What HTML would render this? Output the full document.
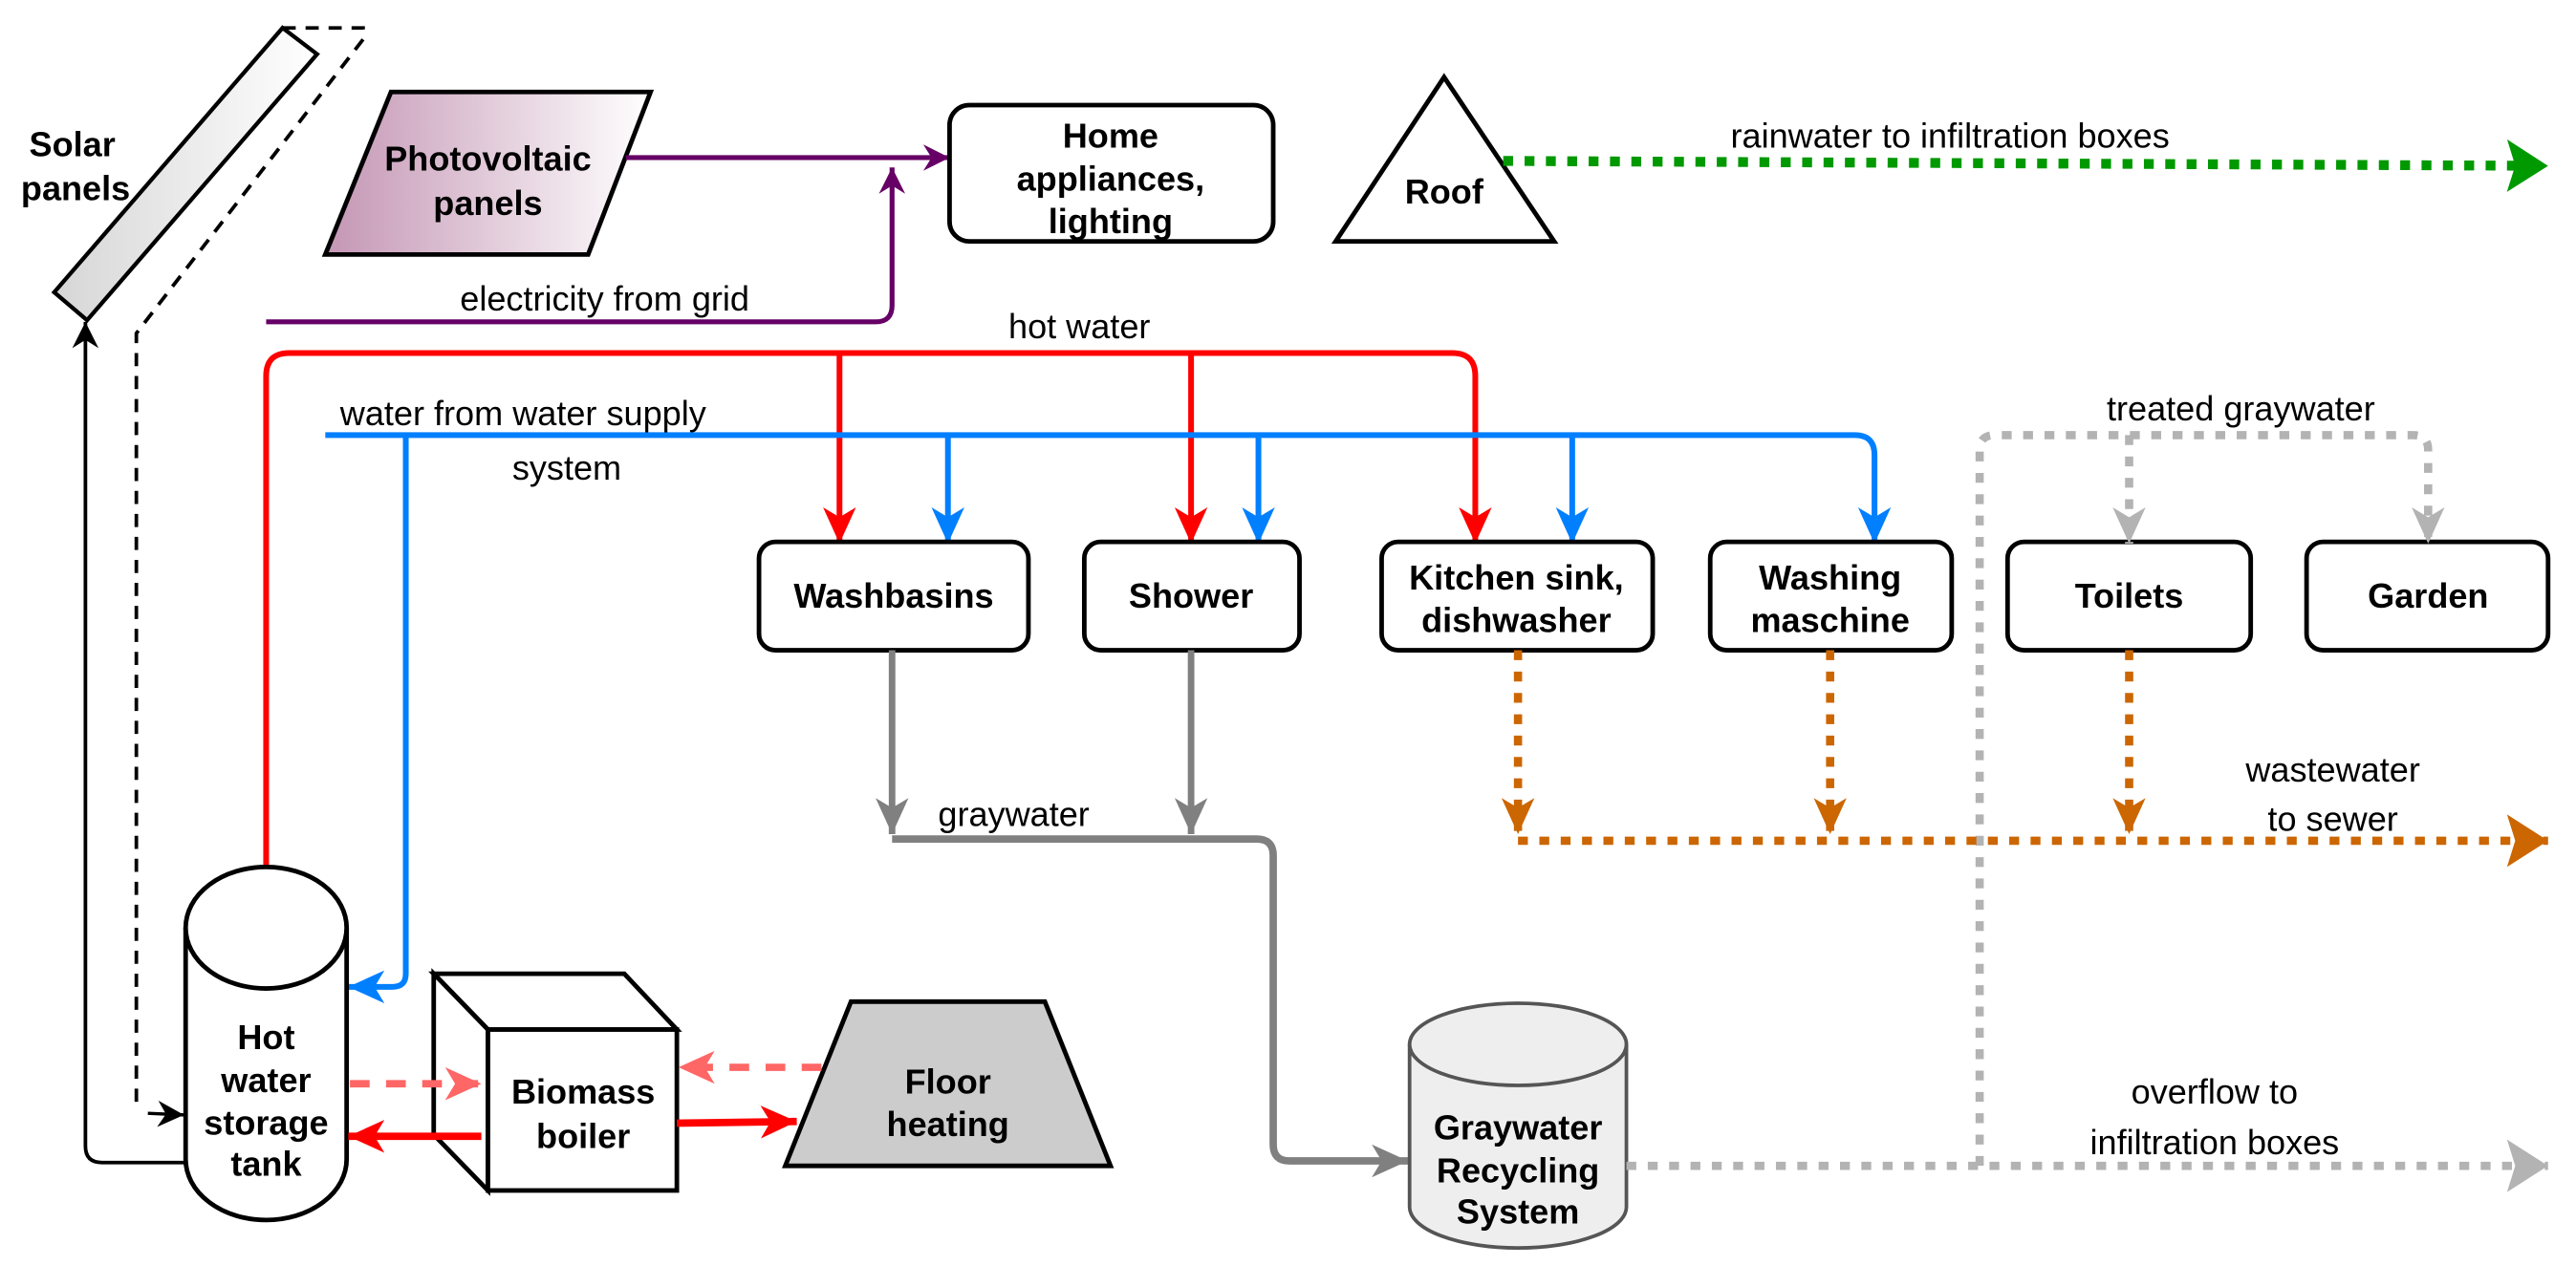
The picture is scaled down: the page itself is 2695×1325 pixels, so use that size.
<!DOCTYPE html>
<html><head><meta charset="utf-8"><style>
html,body{margin:0;padding:0;background:#fff;}
svg{display:block;}
text{font-family:"Liberation Sans",Arial,sans-serif;}
.b{font-weight:bold;font-size:21px;text-anchor:middle;}
.r{font-size:21px;}
</style></head><body>
<svg width="2695" height="1325" viewBox="0 0 1568 771" preserveAspectRatio="none" xmlns="http://www.w3.org/2000/svg">
<defs>
<linearGradient id="gs" x1="0" y1="0" x2="1" y2="0"><stop offset="0" stop-color="#d6d6d6"/><stop offset="1" stop-color="#ffffff"/></linearGradient>
<linearGradient id="gp" x1="0" y1="0" x2="1" y2="0"><stop offset="0" stop-color="#c496b4"/><stop offset="1" stop-color="#ffffff"/></linearGradient>
<marker id="aK" markerUnits="userSpaceOnUse" markerWidth="18" markerHeight="16" refX="16" refY="8" orient="auto"><path d="M0,0 L16,8 L0,16 L5,8z" fill="#000"/></marker>
<marker id="aP" markerUnits="userSpaceOnUse" markerWidth="18" markerHeight="16" refX="16" refY="8" orient="auto"><path d="M0,0 L16,8 L0,16 L5,8z" fill="#660066"/></marker>
<marker id="aR" markerUnits="userSpaceOnUse" markerWidth="24" markerHeight="20" refX="22" refY="10" orient="auto"><path d="M0,0 L22,10 L0,20 L6,10z" fill="#ff0000"/></marker>
<marker id="aRp" markerUnits="userSpaceOnUse" markerWidth="24" markerHeight="20" refX="22" refY="10" orient="auto"><path d="M0,0 L22,10 L0,20 L6,10z" fill="#ff6666"/></marker>
<marker id="aB" markerUnits="userSpaceOnUse" markerWidth="24" markerHeight="20" refX="22" refY="10" orient="auto"><path d="M0,0 L22,10 L0,20 L6,10z" fill="#007fff"/></marker>
<marker id="aG" markerUnits="userSpaceOnUse" markerWidth="24" markerHeight="20" refX="22" refY="10" orient="auto"><path d="M0,0 L22,10 L0,20 L6,10z" fill="#808080"/></marker>
<marker id="aL" markerUnits="userSpaceOnUse" markerWidth="24" markerHeight="20" refX="22" refY="10" orient="auto"><path d="M0,0 L22,10 L0,20 L6,10z" fill="#b3b3b3"/></marker>
<marker id="aO" markerUnits="userSpaceOnUse" markerWidth="24" markerHeight="20" refX="22" refY="10" orient="auto"><path d="M0,0 L22,10 L0,20 L6,10z" fill="#cc6600"/></marker>
<marker id="aGr" markerUnits="userSpaceOnUse" markerWidth="26" markerHeight="32" refX="25" refY="16" orient="auto"><path d="M0,0 L25,16 L0,32 L5,16z" fill="#009900"/></marker>
<marker id="aOb" markerUnits="userSpaceOnUse" markerWidth="26" markerHeight="32" refX="25" refY="16" orient="auto"><path d="M0,0 L25,16 L0,32 L5,16z" fill="#cc6600"/></marker>
<marker id="aLb" markerUnits="userSpaceOnUse" markerWidth="26" markerHeight="32" refX="25" refY="16" orient="auto"><path d="M0,0 L25,16 L0,32 L5,16z" fill="#b3b3b3"/></marker>
</defs>

<!-- Solar panel -->
<polygon points="172,17 193,33 53,195 33,178" fill="url(#gs)" stroke="#000" stroke-width="2.5"/>
<text class="r" x="44" y="95" text-anchor="middle" font-size="20" font-weight="bold">Solar</text>
<text class="r" x="46" y="122" text-anchor="middle" font-size="20" font-weight="bold">panels</text>
<path d="M172,17 L221,17 L221,24 L83,203 L83,675" fill="none" stroke="#000" stroke-width="2.2" stroke-dasharray="8 6"/>
<path d="M90,678 L112,679" fill="none" stroke="#000" stroke-width="2" marker-end="url(#aK)"/>
<path d="M112,708 L62,708 Q52,708 52,698 L52,196" fill="none" stroke="#000" stroke-width="2.2" marker-end="url(#aK)"/>

<!-- Photovoltaic -->
<polygon points="238,56 396,56 358,155 198,155" fill="url(#gp)" stroke="#000" stroke-width="2.8"/>
<text class="b" x="297" y="104">Photovoltaic</text>
<text class="b" x="297" y="131">panels</text>
<path d="M381,96 L578,96" fill="none" stroke="#660066" stroke-width="3" marker-end="url(#aP)"/>
<path d="M162,196 L533,196 Q543,196 543,186 L543,102" fill="none" stroke="#660066" stroke-width="3" marker-end="url(#aP)"/>
<text class="r" x="280" y="189">electricity from grid</text>

<!-- Home -->
<rect x="578" y="64" width="197" height="83" rx="12" fill="#fff" stroke="#000" stroke-width="2.8"/>
<text class="b" x="676" y="90">Home</text>
<text class="b" x="676" y="116">appliances,</text>
<text class="b" x="676" y="142">lighting</text>

<!-- Roof -->
<polygon points="879,47 946,147 813,147" fill="#fff" stroke="#000" stroke-width="2.8"/>
<text class="b" x="879" y="124">Roof</text>
<path d="M915,98 L1551,101" fill="none" stroke="#009900" stroke-width="6" stroke-dasharray="6 7" marker-end="url(#aGr)"/>
<text class="r" x="1187" y="90" text-anchor="middle">rainwater to infiltration boxes</text>

<!-- Hot water red -->
<path d="M162,528 L162,229 Q162,215 176,215 L884,215 Q898,215 898,229 L898,331" fill="none" stroke="#ff0000" stroke-width="3.5" marker-end="url(#aR)"/>
<path d="M511,215 L511,331" fill="none" stroke="#ff0000" stroke-width="3.5" marker-end="url(#aR)"/>
<path d="M725,215 L725,331" fill="none" stroke="#ff0000" stroke-width="3.5" marker-end="url(#aR)"/>
<text class="r" x="657" y="206" text-anchor="middle">hot water</text>

<!-- Blue water -->
<path d="M198,265 L1129,265 Q1141,265 1141,277 L1141,331" fill="none" stroke="#007fff" stroke-width="3.5" marker-end="url(#aB)"/>
<path d="M577,265 L577,331" fill="none" stroke="#007fff" stroke-width="3.5" marker-end="url(#aB)"/>
<path d="M766,265 L766,331" fill="none" stroke="#007fff" stroke-width="3.5" marker-end="url(#aB)"/>
<path d="M957,265 L957,331" fill="none" stroke="#007fff" stroke-width="3.5" marker-end="url(#aB)"/>
<path d="M247,265 L247,593 Q247,601 239,601 L212,601" fill="none" stroke="#007fff" stroke-width="3.5" marker-end="url(#aB)"/>
<text class="r" x="207" y="259">water from water supply</text>
<text class="r" x="345" y="292" text-anchor="middle">system</text>

<!-- Boxes -->
<g fill="#fff" stroke="#000" stroke-width="2.8">
<rect x="462" y="330" width="164" height="66" rx="10"/>
<rect x="660" y="330" width="131" height="66" rx="10"/>
<rect x="841" y="330" width="165" height="66" rx="10"/>
<rect x="1041" y="330" width="147" height="66" rx="10"/>
<rect x="1222" y="330" width="148" height="66" rx="10"/>
<rect x="1404" y="330" width="147" height="66" rx="10"/>
</g>
<text class="b" x="544" y="370">Washbasins</text>
<text class="b" x="725" y="370">Shower</text>
<text class="b" x="923" y="359">Kitchen sink,</text>
<text class="b" x="923" y="385">dishwasher</text>
<text class="b" x="1114" y="359">Washing</text>
<text class="b" x="1114" y="385">maschine</text>
<text class="b" x="1296" y="370">Toilets</text>
<text class="b" x="1478" y="370">Garden</text>

<!-- Graywater -->
<path d="M543,396 L543,508" fill="none" stroke="#808080" stroke-width="4" marker-end="url(#aG)"/>
<path d="M725,396 L725,508" fill="none" stroke="#808080" stroke-width="4" marker-end="url(#aG)"/>
<path d="M543,511 L765,511 Q775,511 775,521 L775,697 Q775,707 785,707 L857,707" fill="none" stroke="#808080" stroke-width="4.5" marker-end="url(#aG)"/>
<text class="r" x="571" y="503">graywater</text>

<!-- Graywater cylinder -->
<path d="M858,636 L858,735 A66,25 0 0 0 990,735 L990,636" fill="#eeeeee" stroke="#555" stroke-width="2.2"/>
<ellipse cx="924" cy="636" rx="66" ry="25" fill="#eeeeee" stroke="#555" stroke-width="2.2"/>
<text class="b" x="924" y="694" font-size="19">Graywater</text>
<text class="b" x="924" y="720" font-size="19">Recycling</text>
<text class="b" x="924" y="745" font-size="19">System</text>

<!-- light gray dotted -->
<path d="M990,710 L1551,710" fill="none" stroke="#b3b3b3" stroke-width="5" stroke-dasharray="6 7" marker-end="url(#aLb)"/>
<path d="M1205,710 L1205,274 Q1205,265 1214,265 L1469,265 Q1478,265 1478,274 L1478,331" fill="none" stroke="#b3b3b3" stroke-width="5" stroke-dasharray="6 7" marker-end="url(#aL)"/>
<path d="M1296,265 L1296,331" fill="none" stroke="#b3b3b3" stroke-width="5" stroke-dasharray="6 7" marker-end="url(#aL)"/>
<text class="r" x="1364" y="256" text-anchor="middle">treated graywater</text>
<text class="r" x="1348" y="672" text-anchor="middle">overflow to</text>
<text class="r" x="1348" y="703" text-anchor="middle">infiltration boxes</text>

<!-- Orange wastewater -->
<path d="M924,396 L924,508" fill="none" stroke="#cc6600" stroke-width="5" stroke-dasharray="6 7" marker-end="url(#aO)"/>
<path d="M1114,396 L1114,508" fill="none" stroke="#cc6600" stroke-width="5" stroke-dasharray="6 7" marker-end="url(#aO)"/>
<path d="M1296,396 L1296,508" fill="none" stroke="#cc6600" stroke-width="5" stroke-dasharray="6 7" marker-end="url(#aO)"/>
<path d="M924,512 L1551,512" fill="none" stroke="#cc6600" stroke-width="5" stroke-dasharray="6 7" marker-end="url(#aOb)"/>
<text class="r" x="1420" y="476" text-anchor="middle">wastewater</text>
<text class="r" x="1420" y="506" text-anchor="middle">to sewer</text>

<!-- Hot water tank -->
<path d="M113,565 L113,706 A49,37 0 0 0 211,706 L211,565" fill="#fff" stroke="#000" stroke-width="2.8"/>
<ellipse cx="162" cy="565" rx="49" ry="37" fill="#fff" stroke="#000" stroke-width="2.8"/>
<text class="b" x="162" y="639">Hot</text>
<text class="b" x="162" y="665">water</text>
<text class="b" x="162" y="691">storage</text>
<text class="b" x="162" y="716">tank</text>

<!-- Biomass boiler cube -->
<polygon points="264,593 380,593 412,627 297,627" fill="#fff" stroke="#000" stroke-width="2.8"/>
<polygon points="264,593 297,627 297,725 264,691" fill="#fff" stroke="#000" stroke-width="2.8"/>
<rect x="297" y="627" width="115" height="98" fill="#fff" stroke="#000" stroke-width="2.8"/>
<text class="b" x="355" y="672">Biomass</text>
<text class="b" x="355" y="699">boiler</text>

<!-- Floor heating -->
<polygon points="518,610 636,610 676,710 478,710" fill="#cccccc" stroke="#000" stroke-width="2.8"/>
<text class="b" x="577" y="666">Floor</text>
<text class="b" x="577" y="692">heating</text>

<!-- arrows tank/boiler/floor -->
<path d="M213,660 L293,660" fill="none" stroke="#ff6666" stroke-width="4.5" stroke-dasharray="12 10" marker-end="url(#aRp)"/>
<path d="M500,650 L413,650" fill="none" stroke="#ff6666" stroke-width="4.5" stroke-dasharray="12 10" marker-end="url(#aRp)"/>
<path d="M293,692 L212,692" fill="none" stroke="#ff0000" stroke-width="4.5" marker-end="url(#aR)"/>
<path d="M412,684 L485,683" fill="none" stroke="#ff0000" stroke-width="4.5" marker-end="url(#aR)"/>
</svg>
</body></html>
